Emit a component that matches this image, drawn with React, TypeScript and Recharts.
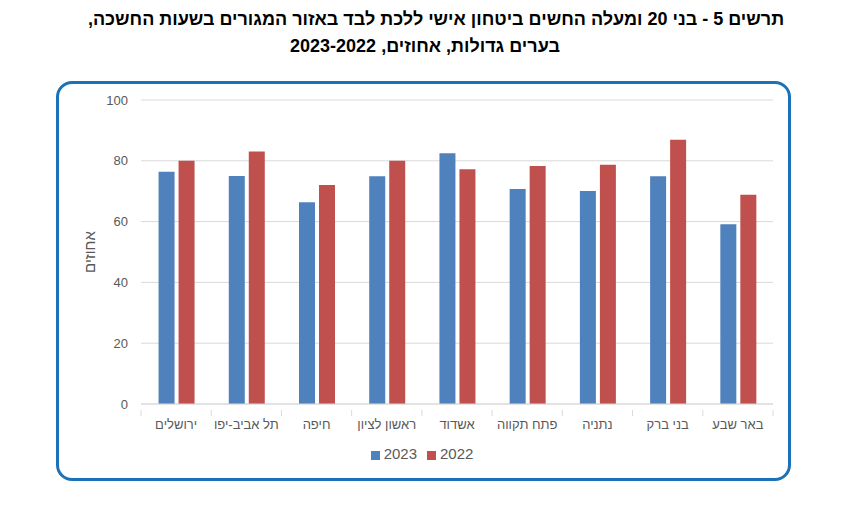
import React from "react";
import { BarChart, Bar, XAxis, YAxis, CartesianGrid, Legend } from "recharts";

const cities = ["ירושלים", "תל אביב-יפו", "חיפה", "ראשון לציון", "אשדוד", "פתח תקווה", "נתניה", "בני ברק", "באר שבע"];
const values2023 = [76.4, 75.0, 66.4, 74.9, 82.5, 70.7, 70.1, 74.9, 59.1];
const values2022 = [80.0, 83.1, 72.0, 80.0, 77.2, 78.3, 78.7, 86.9, 68.8];
const yTicks = [0, 20, 40, 60, 80, 100];
const seriesOrder = ["2023", "2022"];
const titleLine1 = "תרשים 5 - בני 20 ומעלה החשים ביטחון אישי ללכת לבד באזור המגורים בשעות החשכה,";
const titleLine2 = "בערים גדולות, אחוזים, 2023-2022";
const yLabel = "אחוזים";

const data = cities.map((c, i) => ({ city: c, y2023: values2023[i], y2022: values2022[i] }));

const font = "'Liberation Sans', Arial, sans-serif";
const gray = "#595959";
const tickGray = "#d9d9d9";

function CityTick(props: any) {
  const { x, y, payload, index, visibleTicksCount } = props;
  const off = payload.offset || 0;
  const axisY = y - 10;
  return (
    <g>
      <line x1={x - off} x2={x - off} y1={axisY} y2={axisY + 6} stroke={tickGray} />
      {index === visibleTicksCount - 1 ? (
        <line x1={x + off} x2={x + off} y1={axisY} y2={axisY + 6} stroke={tickGray} />
      ) : null}
      <text x={x} y={y} dy={9} textAnchor="middle" fill={gray} fontSize={13} fontFamily={font}>
        {payload.value}
      </text>
    </g>
  );
}

export default function App() {
  return (
    <div style={{ position: "absolute", left: 0, top: 0, width: 856, height: 525, background: "#fff", fontFamily: font }}>
      <div dir="rtl" style={{ position: "absolute", left: 0, top: 6, width: 872, textAlign: "center", fontWeight: "bold", fontSize: 18, color: "#000", lineHeight: "27px" }}>
        {titleLine1}
      </div>
      <div dir="rtl" style={{ position: "absolute", left: 0, top: 33, width: 850, textAlign: "center", fontWeight: "bold", fontSize: 18, color: "#000", lineHeight: "27px" }}>
        {titleLine2}
      </div>
      <div style={{ position: "absolute", left: 56, top: 81, width: 729, height: 394, border: "3px solid #1c72b8", borderRadius: 16 }} />
      <div style={{ position: "absolute", left: 0, top: 0 }}>
        <BarChart width={856} height={525} data={data} margin={{ top: 100, right: 83, left: 81, bottom: 74 }} barCategoryGap="25%" barGap={4}>
          <CartesianGrid vertical={false} stroke="#d9d9d9" />
          <XAxis dataKey="city" tickLine={false} axisLine={{ stroke: tickGray }} tick={<CityTick />} tickMargin={10} interval={0} height={30} />
          <YAxis domain={[0, 100]} ticks={yTicks} width={60} axisLine={false} tickLine={false} tickSize={6} tickMargin={7} tick={{ fill: gray, fontSize: 13, fontFamily: font }}
            label={{ value: yLabel, angle: -90, position: "insideLeft", dx: 4, fill: gray, fontSize: 15, fontFamily: font, style: { textAnchor: "middle" } }} />
          <Legend
            iconType="square"
            iconSize={9}
            itemSorter={(item: any) => seriesOrder.indexOf(String(item.value))}
            formatter={(value: any) => <span style={{ color: gray }}>{value}</span>}
            wrapperStyle={{ fontSize: 15, fontFamily: font, bottom: 63 }}
          />
          <Bar dataKey="y2023" name={seriesOrder[0]} fill="#4f81bd" isAnimationActive={false} />
          <Bar dataKey="y2022" name={seriesOrder[1]} fill="#c0504d" isAnimationActive={false} />
        </BarChart>
      </div>
    </div>
  );
}
